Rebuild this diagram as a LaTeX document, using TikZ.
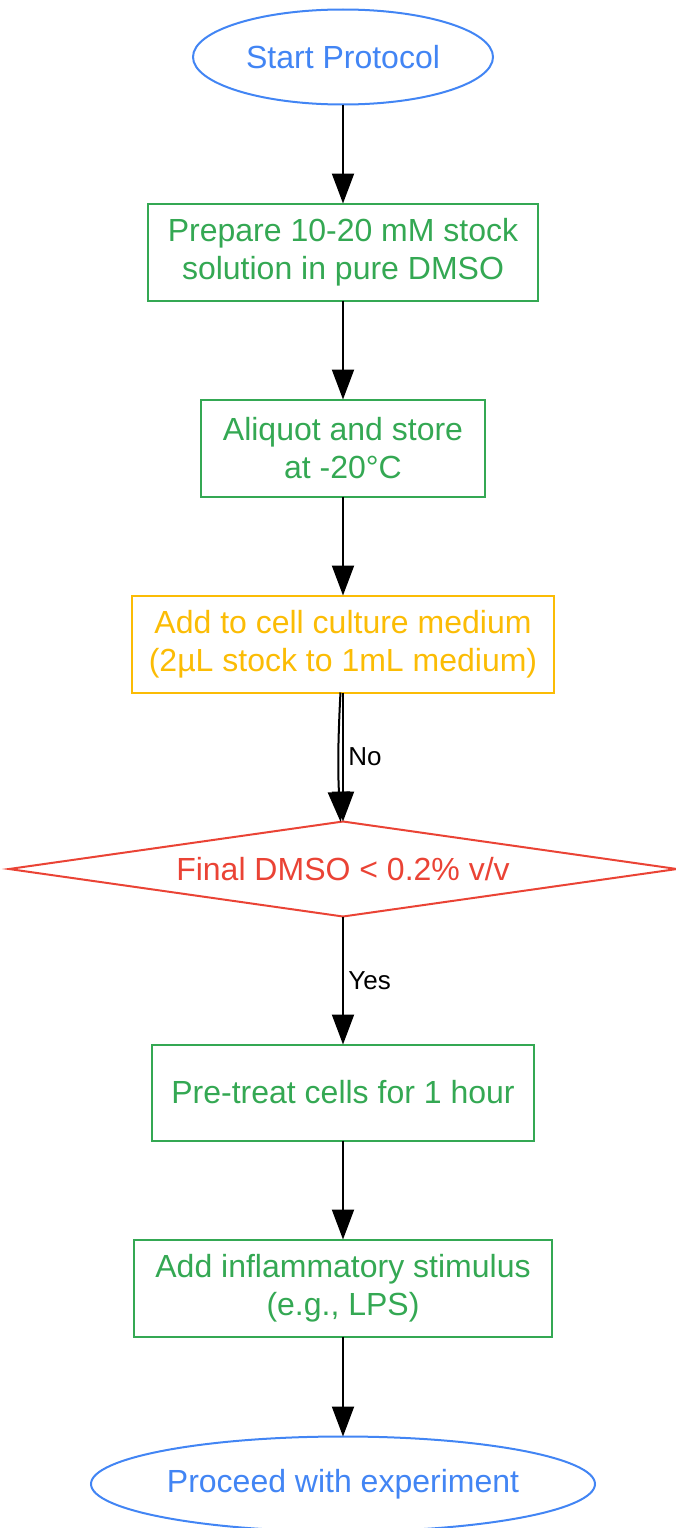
\documentclass[tikz,border=0pt]{standalone}
\usepackage{fontspec}
\setmainfont{Liberation Sans}
\usepackage{tikz}
\usetikzlibrary{positioning,shapes.geometric,arrows.meta}

\definecolor{gblue}{HTML}{4285F4}
\definecolor{ggreen}{HTML}{34A853}
\definecolor{gyellow}{HTML}{FBBC05}
\definecolor{gred}{HTML}{EA4335}

\begin{document}
\begin{tikzpicture}[%
  x=1pt, y=1pt,
  >={Triangle[length=30pt,width=22pt]},
  node distance=99pt,
  every node/.style={font=\fontsize{32}{38}\selectfont, align=center, outer sep=0pt},
  term/.style={
    ellipse,
    draw=gblue,
    text=gblue,
    line width=2pt,
    inner sep=0pt,
    minimum height=95pt,},
  stepbox/.style={
    rectangle,
    draw=ggreen,
    text=ggreen,
    line width=2pt,
    inner sep=0pt,
    minimum height=97pt,},
  pil/.style={
    ->,
    line width=2pt,},
  lbl/.style={
    font=\fontsize{26}{30}\selectfont,
    text=black,}
  ]
  \useasboundingbox (0,0) rectangle (676,-1528);
  %% Nodes
  \node[term, minimum width=300pt] (start) at (343,-57) {Start Protocol};
  \node[stepbox, below = of start, minimum width=390pt] (prep) {Prepare 10-20 mM stock\\solution in pure DMSO};
  \node[stepbox, below = of prep, minimum width=284pt] (aliq) {Aliquot and store\\at -20°C};
  \node[stepbox, below = of aliq, minimum width=422pt, draw=gyellow, text=gyellow] (add) {Add to cell culture medium\\(2µL stock to 1mL medium)};
  \node[diamond, below = 129pt of add, draw=gred, text=gred, line width=2pt,
        inner sep=0pt, aspect=7, minimum width=668pt, minimum height=95pt] (check) {Final DMSO < 0.2\% v/v};
  \node[stepbox, below = 128pt of check, minimum width=382pt, minimum height=96pt] (pre) {Pre-treat cells for 1 hour};
  \node[stepbox, below = of pre, minimum width=418pt] (stim) {Add inflammatory stimulus\\(e.g., LPS)};
  \node[term, below = 100pt of stim, minimum width=504pt] (done) {Proceed with experiment};
  %% Edges
  \draw[pil] (start) to (prep);
  \draw[pil] (prep) to (aliq);
  \draw[pil] (aliq) to (add);
  \draw[pil] (add) to [bend right=3] (check);
  \draw[pil] (add) to node[lbl, right, xshift=2pt] {No} (check);
  \draw[pil] (check) to node[lbl, right, xshift=2pt] {Yes} (pre);
  \draw[pil] (pre) to (stim);
  \draw[pil] (stim) to (done);
\end{tikzpicture}
\end{document}
